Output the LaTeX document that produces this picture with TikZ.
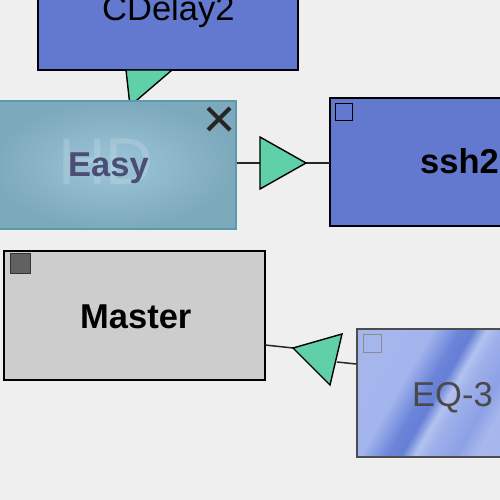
\documentclass[tikz,border=0pt]{standalone}
\usepackage{fontspec}
\setmainfont{Liberation Sans}
\usetikzlibrary{calc}
\definecolor{bg}{HTML}{EFEFEF}
\definecolor{plugblue}{HTML}{6379D0}
\definecolor{mint}{HTML}{5FD0A8}
\definecolor{mastergray}{HTML}{CDCDCD}
\definecolor{easyA}{HTML}{9DC6D8}
\definecolor{easyB}{HTML}{7DA9BC}
\definecolor{easyedge}{HTML}{5F9AAA}
\definecolor{easytext}{HTML}{4B4D75}
\definecolor{eqtext}{HTML}{4A4A4A}
\pgfdeclarehorizontalshading{eqstreak}{100bp}{rgb(0bp)=(0.66,0.72,0.93); rgb(38bp)=(0.64,0.71,0.93); rgb(46bp)=(0.42,0.52,0.85); rgb(50bp)=(0.40,0.50,0.84); rgb(54bp)=(0.70,0.76,0.94); rgb(58bp)=(0.62,0.69,0.92); rgb(66bp)=(0.55,0.63,0.90); rgb(72bp)=(0.66,0.72,0.93); rgb(100bp)=(0.60,0.68,0.92)}
\tikzset{
  x=1pt, y=-1pt,
  box/.style={draw=black, line width=1.8pt, inner sep=0pt, outer sep=0pt},
  bluebox/.style={box, fill=plugblue},
  tri/.style={draw=black, line width=1.4pt, fill=mint, line join=miter},
  wire/.style={draw=black!85, line width=1.5pt},
  lbl/.style={anchor=base west, inner sep=0pt, font=\fontsize{34.5pt}{40pt}\selectfont},
  corner/.style={draw=black, line width=1.3pt, inner sep=0pt, minimum size=17pt},
}
\begin{document}
\begin{tikzpicture}
\useasboundingbox (0,0) rectangle (500,500);
\begin{scope}
\clip (0,0) rectangle (500,500);
\fill[bg] (0,0) rectangle (500,500);

% CDelay2
\node[bluebox, minimum width=260pt, minimum height=110pt] (cdelay) at (168,15) {};
\node[lbl] (cdelaytxt) at (102,21) {CDelay2};

% triangle CDelay2 -> Easy (partly hidden)
\coordinate (t1a) at (126,70);
\coordinate (t1b) at (172,70);
\coordinate (t1c) at (130,106);
\draw[tri] (t1a) -- (t1b) -- (t1c) -- cycle;

% Easy
\node[draw=easyedge, line width=1.6pt, inner color=easyA, outer color=easyB, inner sep=0pt,
      minimum width=246pt, minimum height=128pt] (easy) at (113,165) {};
\node[anchor=center, inner sep=0pt, text=white, opacity=0.16,
      font=\fontsize{66pt}{70pt}\selectfont] (hd) at (106,162) {HD};
\node[lbl, text=easytext, font=\bfseries\fontsize{34.5pt}{40pt}\selectfont] (easytxt) at (68,176) {Easy};
\coordinate (xc) at (219,119);
\draw[line width=4pt, black!85] ($(xc)+(-11,-11)$) -- ($(xc)+(11,11)$)
      ($(xc)+(-11,11)$) -- ($(xc)+(11,-11)$);

% ssh2
\node[bluebox, minimum width=200pt, minimum height=128pt] (ssh) at (430,162) {};
\node[corner, fill=plugblue] (sshsq) at (344,112) {};
\node[lbl, font=\bfseries\fontsize{34.5pt}{40pt}\selectfont] (sshtxt) at (420,173) {ssh2};

% arrow Easy -> ssh2
\coordinate (t2a) at (260,137);
\coordinate (t2b) at (260,189);
\coordinate (t2c) at (306,163);
\draw[wire] (easy.east |- t2c) -- (t2a |- t2c);
\draw[wire] (t2c) -- (ssh.west |- t2c);
\draw[tri] (t2a) -- (t2c) -- (t2b) -- cycle;

% Master
\node[box, fill=mastergray, minimum width=261pt, minimum height=129pt] (master) at (134.5,315.5) {};
\node[corner, fill=black!62, draw=black!80, minimum size=20pt] (mastersq) at (20.5,263.5) {};
\node[lbl, font=\bfseries\fontsize{34.5pt}{40pt}\selectfont] (mastertxt) at (80,328) {Master};

% EQ-3
\node[draw=black!70, line width=1.6pt, shading=eqstreak, shading angle=-30, inner sep=0pt,
      minimum width=160pt, minimum height=128pt] (eq) at (437,393) {};
\node[corner, draw=black!45, line width=1pt, minimum size=18pt] (eqsq) at (372,343) {};
\node[lbl, text=eqtext] (eqtxt) at (412,406) {EQ-3};

% arrow EQ-3 -> Master
\coordinate (t3a) at (293,348);
\coordinate (t3b) at (342,334);
\coordinate (t3c) at (330,385);
\coordinate (t3m) at (337,362);
\draw[wire] (master.east |- 0,345) -- (t3a);
\draw[wire] (t3m) -- (eq.west |- 0,364);
\draw[tri] (t3a) -- (t3b) -- (t3c) -- cycle;
\end{scope}
\end{tikzpicture}
\end{document}
